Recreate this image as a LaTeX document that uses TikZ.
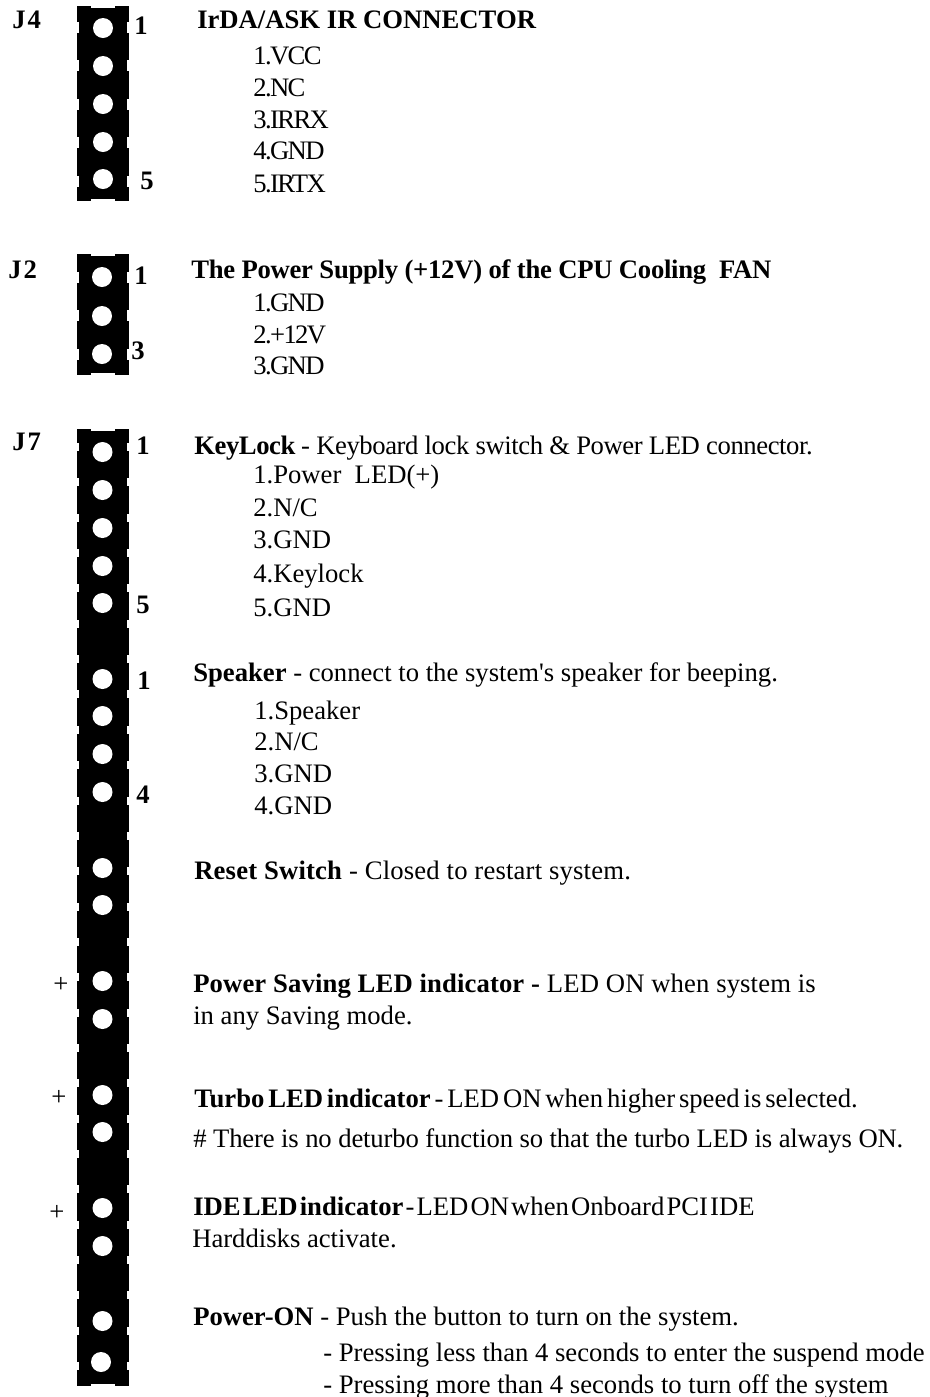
\documentclass[tikz,border=0pt]{standalone}
\usepackage{fontspec}
\setmainfont{Liberation Serif}
\usepackage{tikz}
\definecolor{PinBlack}{RGB}{0, 0, 0}
\tikzset{
    txtline/.style={anchor=base west, inner sep=0pt, yshift=-0.75pt, font=\fontsize{20}{22}\selectfont},
    headline/.style={txtline, font=\fontsize{20}{22}\selectfont\bfseries},
    jname/.style={headline, execute at begin node={\addfontfeature{LetterSpace=8}}},
    tracked/.style={txtline, execute at begin node={\addfontfeature{LetterSpace=#1}}},
    tightline/.style={txtline, execute at begin node={\spaceskip=#1em\relax}},
    pinhole/.style={white, fill=white},
    notch/.style={fill=white, draw=none}
}
% strip from x=76 to x=129, args: top, bottom, first notch, notch period, notch count, notch height
\newcommand{\pinstrip}[6]{
    \fill[PinBlack] (76.5,#1) rectangle (129,#2);
    \fill[notch] (91,#1-1) rectangle (115,#1+2);
    \fill[notch] (91,#2-2) rectangle (115,#2+1);
    \foreach \k in {1,...,#5} {
        \fill[notch] (76,{#3+(\k-1)*#4-#6/2}) rectangle (78.5,{#3+(\k-1)*#4+#6/2});
        \fill[notch] (127,{#3+(\k-1)*#4-#6/2}) rectangle (129.5,{#3+(\k-1)*#4+#6/2});
    }
}
\begin{document}
\begin{tikzpicture}[x=0.75pt, y=-0.75pt]
    \useasboundingbox (0,0) rectangle (930,1397);

    % Connector strips
    \pinstrip{6}{201}{27}{38.6}{5}{11}
    \pinstrip{254}{375}{277}{38.5}{3}{11}
    \pinstrip{429}{1386}{447}{35.35}{27}{8}

    % Pin holes
    \foreach \y in {28,66,104,142,179} \fill[pinhole] (103,\y) circle (10);
    \foreach \y in {277,316,354} \fill[pinhole] (102,\y) circle (10);
    \foreach \y in {452,490,528,566,603,679,716,754,792,868,905,981,1019,1095,1132,1208,1246,1321} \fill[pinhole] (102.5,\y) circle (10);
    \fill[pinhole] (101,1362) circle (10);

    % J4
    \node[jname] (jfourname) at (12,27) {J4};
    \node[headline] (jfourone) at (134,33) {1};
    \node[headline] (jfourfive) at (140,188) {5};
    \node[headline] (jfourtitle) at (197,27) {IrDA/ASK IR CONNECTOR};
    \foreach \y/\s [count=\i] in {63/1.VCC,95/2.NC,127/3.IRRX,158/4.GND,191/5.IRTX}
        \node[tracked=-6] (jfourpin\i) at (253,\y) {\s};

    % J2
    \node[jname] (jtwoname) at (8,277) {J2};
    \node[headline] (jtwoone) at (134,283) {1};
    \node[headline] (jtwothree) at (131,358) {3};
    \node[tracked=-1] (jtwotitle) at (191,277) {\textbf{The Power Supply (+12V) of the CPU Cooling\ \ FAN}};
    \foreach \y/\s [count=\i] in {310/1.GND,342/2.+12V,373/3.GND}
        \node[tracked=-6] (jtwopin\i) at (253,\y) {\s};

    % J7
    \node[jname] (jsevenname) at (12,449) {J7};
    \node[headline] (keyone) at (136,453) {1};
    \node[headline] (keyfive) at (136,612) {5};
    \node[headline] (spkone) at (137,688) {1};
    \node[headline] (spkfour) at (136,802) {4};

    % KeyLock
    \node[tracked=-1.6] (keytitle) at (194,453) {\textbf{KeyLock} - Keyboard lock switch \& Power LED connector.};
    \foreach \y/\s [count=\i] in {482/1.Power\ \ LED(+),515/2.N\slash C,547/3.GND,581/4.Keylock,615/5.GND}
        \node[txtline] (keypin\i) at (253,\y) {\s};

    % Speaker
    \node[txtline] (spktitle) at (193,680) {\textbf{Speaker} - connect to the system\textquotesingle s speaker for beeping.};
    \foreach \y/\s [count=\i] in {718/1.Speaker,749/2.N\slash C,781/3.GND,813/4.GND}
        \node[txtline] (spkpin\i) at (254,\y) {\s};

    % Reset
    \node[tracked=0.7] (resettitle) at (194,878) {\textbf{Reset Switch} - Closed to restart system.};

    % Power saving
    \node[txtline] (saveplus) at (53,991) {+};
    \node[tracked=0.5] (savetitle) at (193,991) {\textbf{Power Saving LED indicator -} LED ON when system is};
    \node[txtline] (savenext) at (193,1023) {in any Saving mode.};

    % Turbo
    \node[txtline] (turboplus) at (51,1104) {+};
    \node[tightline=0.145] (turbotitle) at (194,1106) {\textbf{Turbo LED indicator} - LED ON when higher speed is selected.};
    \node[tracked=-0.6] (turbonext) at (193,1146) {\# There is no deturbo function so that the turbo LED is always ON.};

    % IDE
    \node[txtline] (ideplus) at (49,1219) {+};
    \node[tightline=0.08] (idetitle) at (193,1214) {\textbf{IDE LED indicator} - LED ON when Onboard PCI IDE};
    \node[txtline] (idenext) at (192,1246) {Harddisks activate.};

    % Power-ON
    \node[txtline] (ontitle) at (193,1324) {\textbf{Power-ON} - Push the button to turn on the system.};
    \node[txtline] (onless) at (323,1360) {- Pressing less than 4 seconds to enter the suspend mode};
    \node[txtline] (onmore) at (323,1392) {- Pressing more than 4 seconds to turn off the system};
\end{tikzpicture}
\end{document}
